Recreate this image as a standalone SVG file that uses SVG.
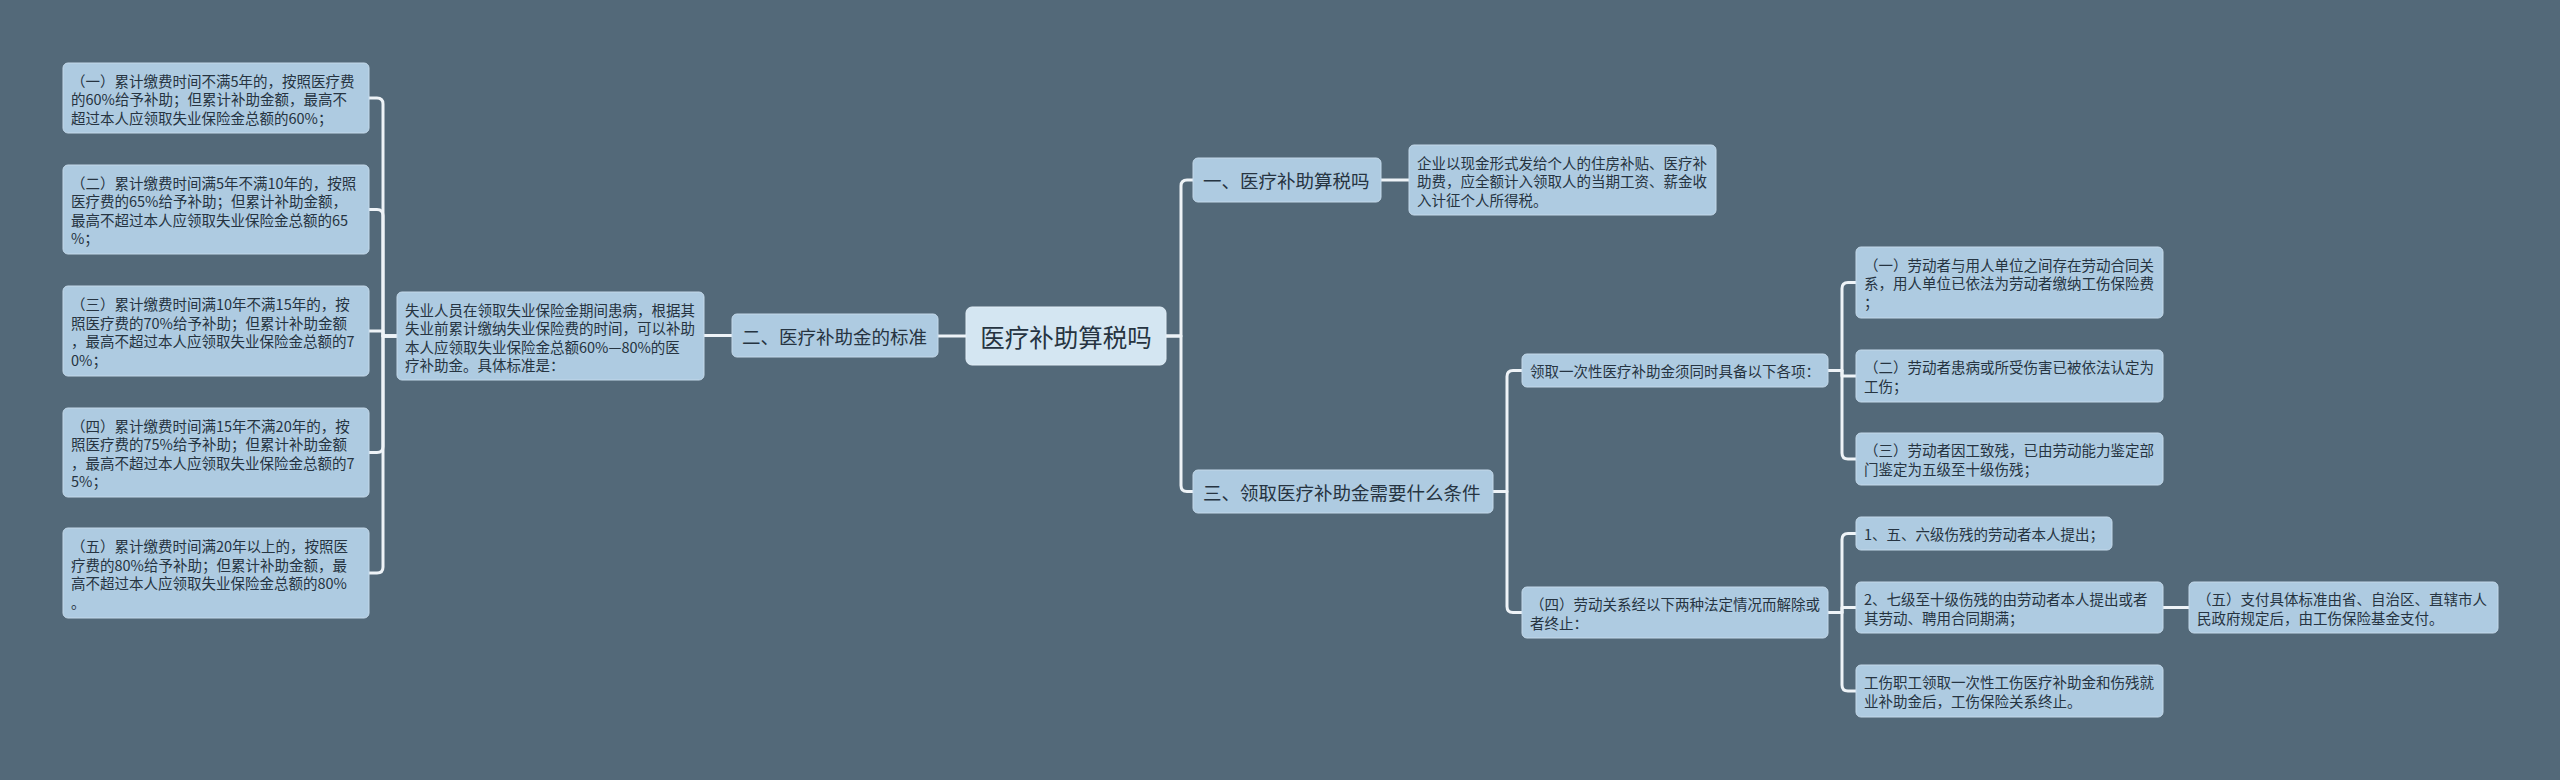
<svg xmlns="http://www.w3.org/2000/svg" width="2560" height="780" viewBox="0 0 2560 780">
<style>
.bg{fill:#536979}
.box{fill:#aecbe1;stroke:#c4d9ea;stroke-width:1}
.root{fill:#d4e6f2;stroke:#e2eef7;stroke-width:1}
text{font-family:"Noto Sans CJK SC","Noto Sans",sans-serif;fill:#263441;dominant-baseline:central}
.s{font-size:14.5px}
.m{font-size:18.5px}
.l{font-size:24.5px}
.c{fill:none;stroke:#eef3f7;stroke-width:3;stroke-linejoin:round;stroke-linecap:round}
</style>
<rect class="bg" x="0" y="0" width="2560" height="780"/>
<g id="connectors">
<path class="c" d="M966 336 H938"/>
<path class="c" d="M732 335.5 H704"/>
<path class="c" d="M397 336 H383 V104 Q383 98 377 98 H369"/>
<path class="c" d="M397 336 H383 V215.5 Q383 209.5 377 209.5 H369"/>
<path class="c" d="M397 336 H383 V331 H369"/>
<path class="c" d="M397 336 H383 V446.5 Q383 452.5 377 452.5 H369"/>
<path class="c" d="M397 336 H383 V567 Q383 573 377 573 H369"/>
<path class="c" d="M1166 336 H1181 V186 Q1181 180 1187 180 H1193"/>
<path class="c" d="M1166 336 H1181 V485.5 Q1181 491.5 1187 491.5 H1193"/>
<path class="c" d="M1381 180 H1409"/>
<path class="c" d="M1493 491.5 H1507 V376.5 Q1507 370.5 1513 370.5 H1522"/>
<path class="c" d="M1493 491.5 H1507 V606.5 Q1507 612.5 1513 612.5 H1522"/>
<path class="c" d="M1828 370.5 H1842 V288.5 Q1842 282.5 1848 282.5 H1856"/>
<path class="c" d="M1828 370.5 H1842 V376 H1856"/>
<path class="c" d="M1828 370.5 H1842 V453 Q1842 459 1848 459 H1856"/>
<path class="c" d="M1828 612.5 H1842 V539.5 Q1842 533.5 1848 533.5 H1856"/>
<path class="c" d="M1828 612.5 H1842 V607.5 H1856"/>
<path class="c" d="M1828 612.5 H1842 V685 Q1842 691 1848 691 H1856"/>
<path class="c" d="M2163 607.5 H2189"/>
</g>
<g id="root">
<rect class="root" x="966" y="307" width="200" height="58" rx="6"/>
<text class="l" x="1066" y="336" text-anchor="middle">医疗补助算税吗</text>
</g>
<g id="n-er">
<rect class="box" x="732" y="314" width="206" height="43" rx="5"/>
<text class="m" x="742" y="335.5">二、医疗补助金的标准</text>
</g>
<g id="n-shiye">
<rect class="box" x="397" y="292" width="307" height="88" rx="5"/>
<text class="s" x="405" y="309">失业人员在领取失业保险金期间患病，根据其</text>
<text class="s" x="405" y="327.5">失业前累计缴纳失业保险费的时间，可以补助</text>
<text class="s" x="405" y="346">本人应领取失业保险金总额60%—80%的医</text>
<text class="s" x="405" y="364.5">疗补助金。具体标准是：</text>
</g>
<g id="n-l1">
<rect class="box" x="63" y="63" width="306" height="70" rx="5"/>
<text class="s" x="71" y="80">（一）累计缴费时间不满5年的，按照医疗费</text>
<text class="s" x="71" y="98.5">的60%给予补助；但累计补助金额，最高不</text>
<text class="s" x="71" y="117">超过本人应领取失业保险金总额的60%；</text>
</g>
<g id="n-l2">
<rect class="box" x="63" y="165" width="306" height="89" rx="5"/>
<text class="s" x="71" y="182">（二）累计缴费时间满5年不满10年的，按照</text>
<text class="s" x="71" y="200.5">医疗费的65%给予补助；但累计补助金额，</text>
<text class="s" x="71" y="219">最高不超过本人应领取失业保险金总额的65</text>
<text class="s" x="71" y="237.5">%；</text>
</g>
<g id="n-l3">
<rect class="box" x="63" y="286" width="306" height="90" rx="5"/>
<text class="s" x="71" y="303.5">（三）累计缴费时间满10年不满15年的，按</text>
<text class="s" x="71" y="322">照医疗费的70%给予补助；但累计补助金额</text>
<text class="s" x="71" y="340.5">，最高不超过本人应领取失业保险金总额的7</text>
<text class="s" x="71" y="359">0%；</text>
</g>
<g id="n-l4">
<rect class="box" x="63" y="408" width="306" height="89" rx="5"/>
<text class="s" x="71" y="425">（四）累计缴费时间满15年不满20年的，按</text>
<text class="s" x="71" y="443.5">照医疗费的75%给予补助；但累计补助金额</text>
<text class="s" x="71" y="462">，最高不超过本人应领取失业保险金总额的7</text>
<text class="s" x="71" y="480.5">5%；</text>
</g>
<g id="n-l5">
<rect class="box" x="63" y="528" width="306" height="90" rx="5"/>
<text class="s" x="71" y="545.5">（五）累计缴费时间满20年以上的，按照医</text>
<text class="s" x="71" y="564">疗费的80%给予补助；但累计补助金额，最</text>
<text class="s" x="71" y="582.5">高不超过本人应领取失业保险金总额的80%</text>
<text class="s" x="71" y="601">。</text>
</g>
<g id="n-yi">
<rect class="box" x="1193" y="158" width="188" height="44" rx="5"/>
<text class="m" x="1203" y="180">一、医疗补助算税吗</text>
</g>
<g id="n-qiye">
<rect class="box" x="1409" y="145" width="307" height="70" rx="5"/>
<text class="s" x="1417" y="162">企业以现金形式发给个人的住房补贴、医疗补</text>
<text class="s" x="1417" y="180.5">助费，应全额计入领取人的当期工资、薪金收</text>
<text class="s" x="1417" y="199">入计征个人所得税。</text>
</g>
<g id="n-san">
<rect class="box" x="1193" y="470" width="300" height="43" rx="5"/>
<text class="m" x="1203" y="491.5">三、领取医疗补助金需要什么条件</text>
</g>
<g id="n-lingqu">
<rect class="box" x="1522" y="354" width="306" height="33" rx="5"/>
<text class="s" x="1530" y="370.5">领取一次性医疗补助金须同时具备以下各项：</text>
</g>
<g id="n-si">
<rect class="box" x="1522" y="587" width="306" height="51" rx="5"/>
<text class="s" x="1530" y="603.5">（四）劳动关系经以下两种法定情况而解除或</text>
<text class="s" x="1530" y="622">者终止：</text>
</g>
<g id="n-r1">
<rect class="box" x="1856" y="247" width="307" height="71" rx="5"/>
<text class="s" x="1864" y="264">（一）劳动者与用人单位之间存在劳动合同关</text>
<text class="s" x="1864" y="282.5">系，用人单位已依法为劳动者缴纳工伤保险费</text>
<text class="s" x="1864" y="301">；</text>
</g>
<g id="n-r2">
<rect class="box" x="1856" y="350" width="307" height="52" rx="5"/>
<text class="s" x="1864" y="366.5">（二）劳动者患病或所受伤害已被依法认定为</text>
<text class="s" x="1864" y="385">工伤；</text>
</g>
<g id="n-r3">
<rect class="box" x="1856" y="433" width="307" height="52" rx="5"/>
<text class="s" x="1864" y="449.5">（三）劳动者因工致残，已由劳动能力鉴定部</text>
<text class="s" x="1864" y="468">门鉴定为五级至十级伤残；</text>
</g>
<g id="n-b1">
<rect class="box" x="1856" y="517" width="256" height="33" rx="5"/>
<text class="s" x="1864" y="533.5">1、五、六级伤残的劳动者本人提出；</text>
</g>
<g id="n-b2">
<rect class="box" x="1856" y="582" width="307" height="51" rx="5"/>
<text class="s" x="1864" y="598.5">2、七级至十级伤残的由劳动者本人提出或者</text>
<text class="s" x="1864" y="617">其劳动、聘用合同期满；</text>
</g>
<g id="n-b3">
<rect class="box" x="1856" y="665" width="307" height="52" rx="5"/>
<text class="s" x="1864" y="681.5">工伤职工领取一次性工伤医疗补助金和伤残就</text>
<text class="s" x="1864" y="700">业补助金后，工伤保险关系终止。</text>
</g>
<g id="n-wu">
<rect class="box" x="2189" y="582" width="309" height="51" rx="5"/>
<text class="s" x="2197" y="598.5">（五）支付具体标准由省、自治区、直辖市人</text>
<text class="s" x="2197" y="617">民政府规定后，由工伤保险基金支付。</text>
</g>
</svg>
